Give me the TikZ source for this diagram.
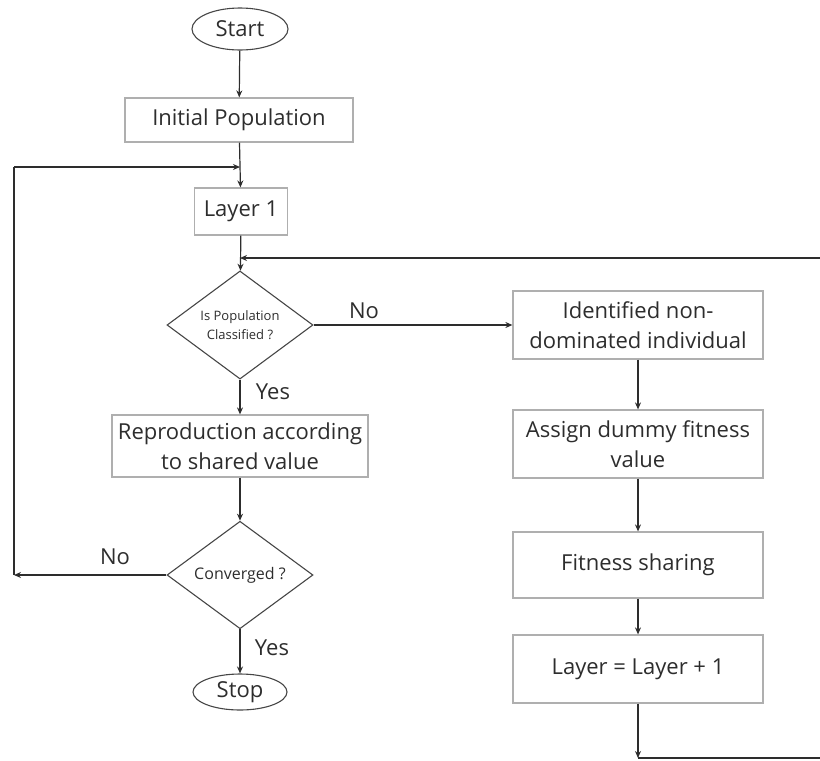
\documentclass[tikz,border=0pt]{standalone}
\usepackage{fontspec}
\setmainfont{Open Sans}
\usetikzlibrary{arrows.meta,shapes.geometric}
\definecolor{boxline}{RGB}{175,175,175}
\definecolor{flowline}{RGB}{45,45,45}
\definecolor{shapeline}{RGB}{70,70,70}
\definecolor{txt}{RGB}{45,45,45}
\begin{document}
\begin{tikzpicture}[x=1pt,y=-1pt,
  font=\fontsize{22}{30}\selectfont, text=txt,
  box/.style={draw=boxline, line width=1.2pt, align=center, inner sep=0pt},
  term/.style={draw=shapeline, line width=1.1pt, ellipse, inner sep=0pt},
  decision/.style={draw=shapeline, line width=1.1pt, diamond, inner sep=0pt,
    align=center, minimum width=146pt, minimum height=86pt},
  flow/.style={draw=flowline, line width=1.2pt},
  arr/.style={flow, -{Stealth[length=7pt,width=6pt]}},
  lbl/.style={font=\fontsize{22}{30}\selectfont}]
\useasboundingbox (0,0) rectangle (820,761);
\clip (0,0) rectangle (820,761);

% left column
\node[term, minimum width=96pt, minimum height=42pt] (start) at (240,29) {Start};
\node[box, minimum width=228pt, minimum height=44pt] (init) at (239,120) {Initial Population};
\node[box, minimum width=93pt, minimum height=47pt] (layer1) at (241,211.5) {Layer 1};
\node[decision, font=\fontsize{13}{19}\selectfont] (classified) at (240,325) {Is Population\\Classified ?};
\node[box, minimum width=256pt, minimum height=62pt] (repro) at (240,446) {Reproduction according\\to shared value};
\node[decision, font=\fontsize{16}{19}\selectfont] (conv) at (240,575) {Converged ?};
\node[term, minimum width=94pt, minimum height=36pt] (stop) at (240,692) {Stop};

% right column
\node[box, minimum width=250pt, minimum height=68pt] (ident) at (638,325) {Identified non-\\dominated individual};
\node[box, minimum width=250pt, minimum height=68pt] (dummy) at (638,444) {Assign dummy fitness\\value};
\node[box, minimum width=250pt, minimum height=66pt] (share) at (638,565) {Fitness sharing};
\node[box, minimum width=250pt, minimum height=68pt] (incr) at (638,669) {Layer = Layer + 1};

% junctions and loop corners
\coordinate (jtop) at (240,167);
\coordinate (jmid) at (240,258);
\coordinate (lbot) at (14,575);
\coordinate (ltop) at (14,167);
\coordinate (rbot) at (638,758);
\coordinate (rcorner) at (830,758);
\coordinate (rtop) at (830,258);

% main flow
\draw[arr] (start) -- (init);
\draw[arr] (init) -- (layer1);
\draw[arr] (layer1) -- (classified);
\draw[arr] (classified) -- (repro);
\draw[arr] (repro) -- (conv);
\draw[arr] (conv) -- (stop);
\draw[arr] (classified) -- (ident);
\draw[arr] (ident) -- (dummy);
\draw[arr] (dummy) -- (share);
\draw[arr] (share) -- (incr);

% outer loop: not converged, back to layer 1
\draw[arr] (conv) -- (lbot);
\draw[flow] (lbot) -- (ltop);
\draw[arr] (ltop) -- (jtop);

% inner loop: next layer, back to classification test
\draw[arr] (incr) -- (rbot);
\draw[flow] (rbot) -- (rcorner) -- (rtop);
\draw[arr] (rtop) -- (jmid);

% branch labels
\node[lbl] (no1) at (364,311) {No};
\node[lbl] (yes1) at (273,392) {Yes};
\node[lbl] (no2) at (115,557) {No};
\node[lbl] (yes2) at (272,648) {Yes};
\end{tikzpicture}
\end{document}
